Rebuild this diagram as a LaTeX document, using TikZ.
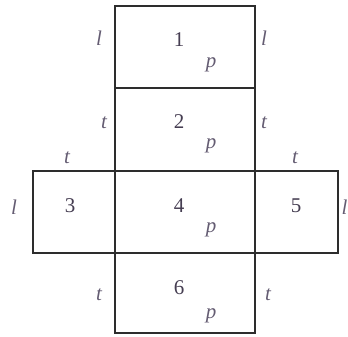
\documentclass[tikz,border=0pt]{standalone}
\usepackage{fontspec}
\setmainfont{Liberation Serif}
\definecolor{numc}{RGB}{70,62,82}
\definecolor{letc}{RGB}{100,92,114}
\definecolor{edgec}{RGB}{45,45,45}
\begin{document}
\begin{tikzpicture}[x=1pt,y=-1pt,
  face/.style={draw=edgec,line width=2pt},
  num/.style={text=numc,font=\fontsize{21}{21}\selectfont,inner sep=0pt,anchor=center},
  lab/.style={text=letc,font=\fontsize{21}{21}\selectfont\itshape,inner sep=0pt,anchor=center}]
\useasboundingbox (0,0) rectangle (348,337);
% faces
\draw[face] (115,6) rectangle (255,88);
\draw[face] (115,88) rectangle (255,171);
\draw[face] (33,171) rectangle (115,253);
\draw[face] (115,171) rectangle (255,253);
\draw[face] (255,171) rectangle (338,253);
\draw[face] (115,253) rectangle (255,333);
% numbers
\node[num] (n1) at (179,40) {1};
\node[num] (n2) at (179,122) {2};
\node[num] (n3) at (70,206) {3};
\node[num] (n4) at (179,206) {4};
\node[num] (n5) at (296,206) {5};
\node[num] (n6) at (179,288) {6};
% p labels
\node[lab] (p1) at (211,65) {p};
\node[lab] (p2) at (211,146) {p};
\node[lab] (p4) at (211,230) {p};
\node[lab] (p6) at (211,316) {p};
% l labels
\node[lab] (l1) at (99,38) {l};
\node[lab] (l2) at (264,38) {l};
\node[lab] (l3) at (14,207) {l};
\node[lab] (l4) at (344.5,207) {l};
% t labels
\node[lab] (t1) at (104,123) {t};
\node[lab] (t2) at (264,123) {t};
\node[lab] (t3) at (67,158) {t};
\node[lab] (t4) at (295,158) {t};
\node[lab] (t5) at (99,295) {t};
\node[lab] (t6) at (268,295) {t};
\end{tikzpicture}
\end{document}
